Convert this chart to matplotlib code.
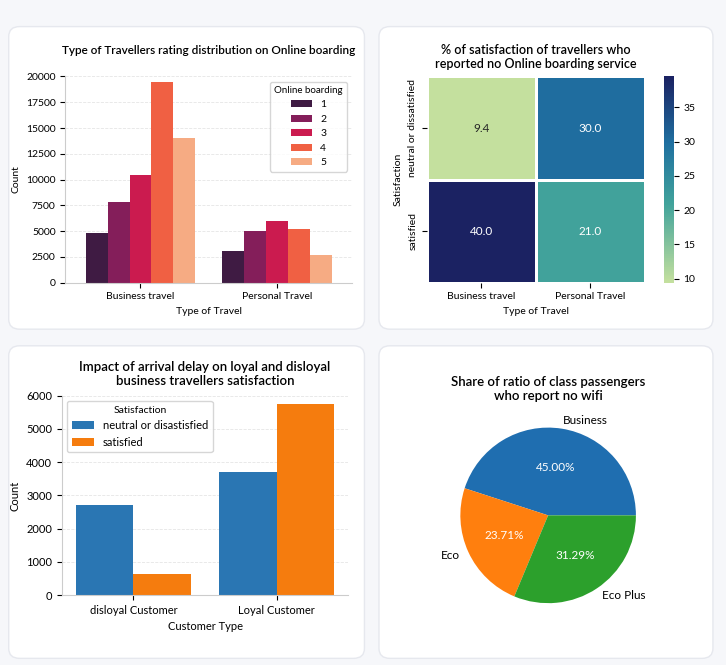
import matplotlib
matplotlib.use("Agg")
import matplotlib.pyplot as plt
import numpy as np
import seaborn as sns
from matplotlib.patches import FancyBboxPatch
from matplotlib.colors import LinearSegmentedColormap

travel_types = ["Business travel", "Personal Travel"]
ratings = ["1", "2", "3", "4", "5"]
rating_counts = {
    "1": [4800, 3050],
    "2": [7800, 5000],
    "3": [10400, 6000],
    "4": [19500, 5200],
    "5": [14000, 2700],
}
sat_rows = ["neutral or dissatisfied", "satisfied"]
sat_pct = [[9.4, 30.0], [40.0, 21.0]]
cust_types = ["disloyal Customer", "Loyal Customer"]
neutral_counts = [2720, 3700]
satisfied_counts = [630, 5750]
pie_labels = ["Business", "Eco", "Eco Plus"]
pie_values = [45.00, 23.71, 31.29]

plt.rcParams['font.family'] = ['Lato', 'DejaVu Sans']
fig = plt.figure(figsize=(7.26, 6.65), dpi=100)
fig.patch.set_facecolor("#f6f7fa")
bg = fig.add_axes([0, 0, 1, 1], zorder=-10)
bg.set_xlim(0, 1); bg.set_ylim(0, 1); bg.axis("off")

def card(x, y, w, h):
    bg.add_patch(FancyBboxPatch((x, y), w, h, boxstyle="round,pad=0,rounding_size=0.015",
                                facecolor="white", edgecolor="#e6e8ee", lw=1))
card(0.012, 0.505, 0.49, 0.455)
card(0.522, 0.505, 0.46, 0.455)
card(0.012, 0.01, 0.49, 0.47)
card(0.522, 0.01, 0.46, 0.47)

# Panel 1
ax1 = fig.add_axes([0.09, 0.575, 0.395, 0.31])
colors1 = sns.color_palette("rocket", 5)
w = 0.16
x = np.arange(len(travel_types))
for i, r in enumerate(ratings):
    ax1.bar(x + (i - 2) * w, rating_counts[r], w, color=colors1[i], label=r)
ax1.set_xticks(x)
ax1.set_xticklabels(travel_types, fontsize=7.5)
ax1.set_yticks(np.arange(0, 20001, 2500))
ax1.tick_params(axis='y', labelsize=7.5)
ax1.set_ylim(0, 20000)
ax1.set_xlim(-0.55, 1.55)
ax1.set_xlabel("Type of Travel", fontsize=7.5)
ax1.set_ylabel("Count", fontsize=7.5)
ax1.set_title("Type of Travellers rating distribution on Online boarding", fontsize=8.5,
              pad=16, fontweight="semibold")
ax1.grid(axis='y', ls='--', color='#e5e5e5', lw=0.6)
ax1.set_axisbelow(True)
for s in ["top", "right"]:
    ax1.spines[s].set_visible(False)
for s in ["left", "bottom"]:
    ax1.spines[s].set_color("#cccccc")
ax1.legend(title="Online boarding", fontsize=7.5, title_fontsize=7, loc="upper right")

# Panel 2
ax2 = fig.add_axes([0.588, 0.575, 0.3, 0.31])
cax = fig.add_axes([0.915, 0.575, 0.013, 0.31])
cmap = LinearSegmentedColormap.from_list(
    "gb", [(0.0, "#c4e09e"), (0.38, "#41a39b"), (0.68, "#1f6fa0"), (1.0, "#1b2262")])
sns.heatmap(np.array(sat_pct), ax=ax2, cbar_ax=cax, cmap=cmap, annot=True, fmt=".1f",
            linewidths=2, linecolor="white", vmin=9.4, vmax=39.5,
            annot_kws={"fontsize": 8.5}, xticklabels=travel_types, yticklabels=sat_rows)
ax2.tick_params(labelsize=7.5)
ax2.set_yticklabels(sat_rows, rotation=90, va="center", fontsize=7.5)
ax2.set_xlabel("Type of Travel", fontsize=7.5)
ax2.set_ylabel("Satisfaction", fontsize=7.5)
ax2.set_title("% of satisfaction of travellers who\nreported no Online boarding service",
              fontsize=9, pad=6, fontweight="semibold")
cax.tick_params(labelsize=7.5)
cax.set_yticks([10, 15, 20, 25, 30, 35])

# Panel 3
ax3 = fig.add_axes([0.085, 0.105, 0.395, 0.3])
w3 = 0.4
x3 = np.arange(len(cust_types))
ax3.bar(x3 - w3 / 2, neutral_counts, w3, color="#2a76b3", label="neutral or disastisfied")
ax3.bar(x3 + w3 / 2, satisfied_counts, w3, color="#f57c0e", label="satisfied")
ax3.set_xticks(x3)
ax3.set_xticklabels(cust_types, fontsize=8)
ax3.set_ylim(0, 6000)
ax3.set_yticks(np.arange(0, 6001, 1000))
ax3.tick_params(axis='y', labelsize=8)
ax3.set_xlim(-0.5, 1.5)
ax3.set_xlabel("Customer Type", fontsize=8)
ax3.set_ylabel("Count", fontsize=8)
ax3.set_title("Impact of arrival delay on loyal and disloyal\nbusiness travellers satisfaction",
              fontsize=9.5, pad=8, fontweight="semibold")
ax3.grid(axis='y', ls='--', color='#e5e5e5', lw=0.6)
ax3.set_axisbelow(True)
for s in ["top", "right"]:
    ax3.spines[s].set_visible(False)
for s in ["left", "bottom"]:
    ax3.spines[s].set_color("#cccccc")
ax3.legend(title="Satisfaction", fontsize=8, title_fontsize=7.5, loc="upper left")

# Panel 4
ax4 = fig.add_axes([0.57, 0.06, 0.37, 0.33])
ax4.pie(pie_values, labels=pie_labels, colors=["#1f6eb0", "#ff7f0e", "#2ca02c"],
        autopct="%.2f%%", startangle=0, counterclock=True,
        textprops={"fontsize": 8.5}, pctdistance=0.55, labeldistance=1.1)
for t in ax4.texts:
    if "%" in t.get_text():
        t.set_color("white")
ax4.set_title("Share of ratio of class passengers\nwho report no wifi", fontsize=9.5, pad=4,
              fontweight="semibold")
ax4.set_aspect("equal")

fig.savefig("out.png", dpi=100, facecolor=fig.get_facecolor())
